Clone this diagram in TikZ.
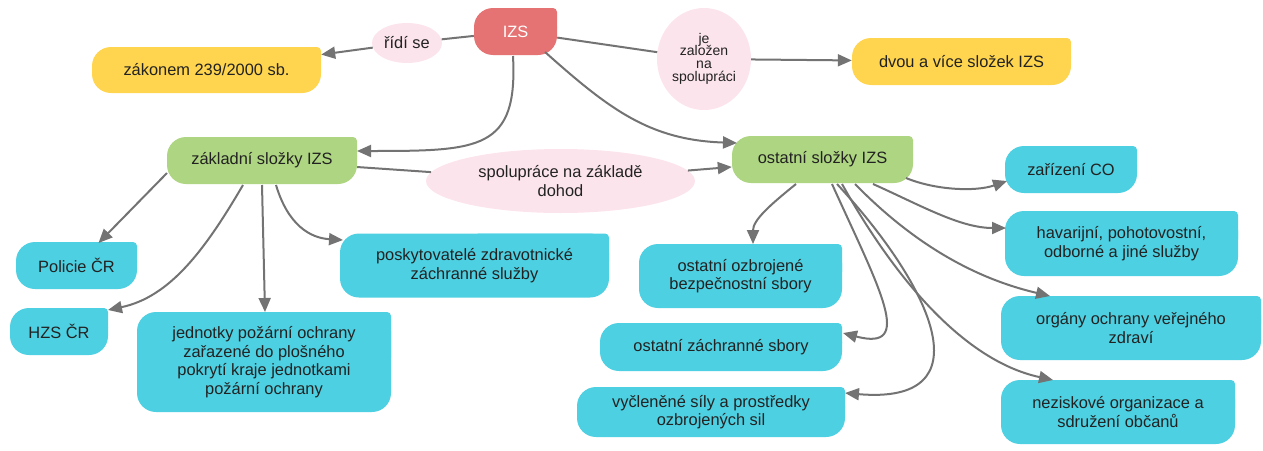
\documentclass[tikz,border=0pt]{standalone}
\usepackage{fontspec}
\setmainfont{Liberation Sans}
\usetikzlibrary{shapes.geometric,arrows.meta,calc}
\definecolor{cred}{HTML}{E57373}
\definecolor{cyellow}{HTML}{FFD54F}
\definecolor{cgreen}{HTML}{AED581}
\definecolor{ccyan}{HTML}{4DD0E1}
\definecolor{cpink}{HTML}{FCE4EC}
\definecolor{cgray}{HTML}{737373}
\definecolor{txt}{HTML}{222222}
\tikzset{
  leaf/.style={rectangle, inner sep=0pt, text=txt, align=center,
    font=\fontsize{16.4}{18.5}\selectfont,
    path picture={
      \fill[#1, rounded corners=19pt] (path picture bounding box.south west) rectangle (path picture bounding box.north east);
      \fill[#1, rounded corners=4pt] (path picture bounding box.center) rectangle (path picture bounding box.north east);}},
  bubble/.style={ellipse, fill=cpink, inner sep=0pt, text=txt, align=center,
    font=\fontsize{16.4}{18.5}\selectfont},
  conn/.style={draw=cgray, line width=2pt},
  arr/.style={conn, -{Triangle[length=14pt,width=12pt]}},
}
\begin{document}
\begin{tikzpicture}[x=1pt,y=-1pt]
\useasboundingbox (0,0) rectangle (1263,450);
% nodes
\node[leaf=cred, text=white, minimum width=83pt, minimum height=47pt] (izs) at (515.5,31.5) {IZS};
\node[bubble, minimum width=70pt, minimum height=40pt] (ridi) at (407,43) {řídí se};
\node[leaf=cyellow, minimum width=229pt, minimum height=46pt] (zakon) at (206.5,70) {zákonem 239/2000 sb.};
\node[bubble, minimum width=94pt, minimum height=102pt, font=\fontsize{14}{15.3}\selectfont] (jezal) at (704,59) {\raisebox{5pt}{\begin{tabular}{@{}c@{}}je\\[-2.6pt]založen\\[-2.6pt]na\\[-2.6pt]spolupráci\end{tabular}}};
\node[leaf=cyellow, minimum width=219pt, minimum height=47pt] (dvou) at (961.5,61.5) {dvou a více složek IZS};
\node[leaf=cgreen, minimum width=190pt, minimum height=47pt] (zakl) at (262,160.5) {základní složky IZS};
\node[bubble, minimum width=269pt, minimum height=64pt] (spol) at (560.5,181) {spolupráce na základě\\dohod};
\node[leaf=cgreen, minimum width=181pt, minimum height=47pt] (ost) at (822.5,159.5) {ostatní složky IZS};
\node[leaf=ccyan, minimum width=121pt, minimum height=47pt] (policie) at (76.5,265.5) {Policie ČR};
\node[leaf=ccyan, minimum width=98pt, minimum height=47pt] (hzs) at (59,331.5) {HZS ČR};
\node[leaf=ccyan, minimum width=254pt, minimum height=100pt] (jednotky) at (264,362) {jednotky požární ochrany\\zařazené do plošného\\pokrytí kraje jednotkami\\požární ochrany};
\node[leaf=ccyan, minimum width=269pt, minimum height=64pt] (posk) at (474.5,265.5) {poskytovatelé zdravotnické\\záchranné služby};
\node[leaf=ccyan, minimum width=203pt, minimum height=64pt] (ozbr) at (740.5,276) {ostatní ozbrojené\\bezpečnostní sbory};
\node[leaf=ccyan, minimum width=242pt, minimum height=48pt] (zachr) at (721,347) {ostatní záchranné sbory};
\node[leaf=ccyan, minimum width=268pt, minimum height=50pt] (vycl) at (711,412) {vyčleněné síly a prostředky\\ozbrojených sil};
\node[leaf=ccyan, minimum width=132pt, minimum height=47pt] (co) at (1071,169.5) {zařízení CO};
\node[leaf=ccyan, minimum width=233pt, minimum height=65pt] (hav) at (1121.5,243.5) {havarijní, pohotovostní,\\odborné a jiné služby};
\node[leaf=ccyan, minimum width=260pt, minimum height=64pt] (org) at (1131,328) {orgány ochrany veřejného\\zdraví};
\node[leaf=ccyan, minimum width=234pt, minimum height=64pt] (nezisk) at (1118,412) {neziskové organizace a\\sdružení občanů};
% connectors
\draw[conn] (izs) -- (ridi);
\draw[arr] (ridi) -- (zakon);
\draw[conn] (izs) -- (jezal);
\draw[arr] (jezal) -- (dvou);
\draw[conn] (zakl) -- (spol);
\draw[arr] (spol) -- (ost);
\draw[arr] ($(izs.center)+(-2.5,24.5)$) .. controls (518,150) and (480,151) .. ($(zakl.center)+(95,-9.5)$);
\draw[arr] ($(izs.center)+(29.5,20.5)$) .. controls (610,110) and (650,140) .. ($(ost.center)+(-85.5,-16.5)$);
\draw[arr] ($(zakl.center)+(-95,12.5)$) -- ($(policie.center)+(22,-22.5)$);
\draw[arr] ($(zakl.center)+(-19,24.5)$) .. controls (205,250) and (170,297) .. ($(hzs.center)+(49,-21.5)$);
\draw[arr] ($(zakl.center)+(0,24.5)$) -- ($(jednotky.center)+(1,-50)$);
\draw[arr] ($(zakl.center)+(14,24.5)$) .. controls (288,225) and (310,238) .. ($(posk.center)+(-131.5,-25.5)$);
\draw[arr] ($(ost.center)+(-26.5,24.5)$) .. controls (770,205) and (753,220) .. ($(ozbr.center)+(12.5,-32)$);
\draw[arr] ($(ost.center)+(83.5,18.5)$) .. controls (935,190) and (975,192) .. ($(co.center)+(-64,11.5)$);
\draw[arr] ($(ost.center)+(50.5,24.5)$) .. controls (920,205) and (960,228) .. ($(hav.center)+(-115.5,-15.5)$);
\draw[arr] ($(ost.center)+(32.5,24.5)$) .. controls (900,230) and (960,275) .. ($(org.center)+(-81,-32)$);
\draw[arr] ($(ost.center)+(19.5,24.5)$) .. controls (890,270) and (960,360) .. ($(nezisk.center)+(-65,-32)$);
\draw[arr] ($(ost.center)+(9.5,24.5)$) .. controls (880,290) and (915,352) .. ($(zachr.center)+(122,-14)$);
\draw[arr] ($(ost.center)+(14.5,24.5)$) .. controls (935,290) and (985,405) .. ($(vycl.center)+(134,-19)$);
\end{tikzpicture}
\end{document}
